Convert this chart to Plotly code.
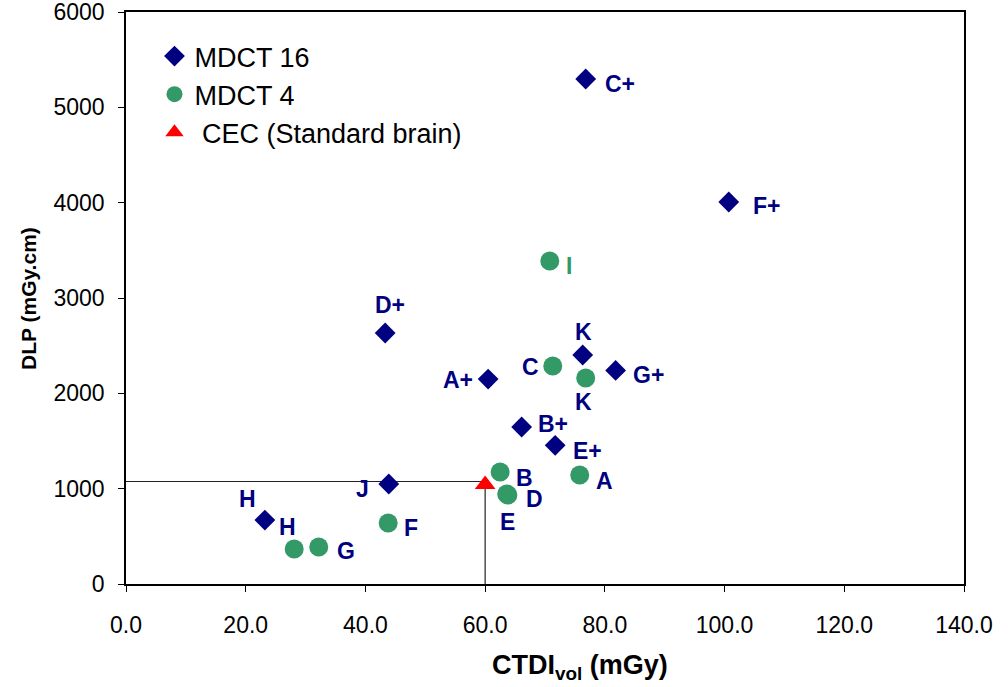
import plotly.graph_objects as go

# MDCT 16 scanners
mdct16_names = ["C+", "F+", "D+", "K", "G+", "A+", "B+", "E+", "J", "H"]
mdct16_ctdi = [76.8, 100.7, 43.3, 76.3, 81.8, 60.5, 66.1, 71.7, 43.9, 23.2]
mdct16_dlp = [5297, 4007, 2633, 2402, 2240, 2150, 1647, 1455, 1049, 671]

# MDCT 4 scanners
mdct4_names = ["I", "C", "K", "B", "D", "E", "A", "F", "G", "H"]
mdct4_ctdi = [70.8, 71.3, 76.8, 62.5, 63.8, 63.6, 75.8, 43.8, 32.2, 28.1]
mdct4_dlp = [3388, 2287, 2161, 1175, 934, 944, 1143, 640, 388, 367]

# CEC reference level for a standard brain examination
cec_ctdi = [60.0]
cec_dlp = [1045]
cec_guide_ctdi = 60.0
cec_guide_dlp = 1075

x_ticks = [0, 20, 40, 60, 80, 100, 120, 140]
y_ticks = [0, 1000, 2000, 3000, 4000, 5000, 6000]

NAVY = "#000080"
GREEN = "#339966"
RED = "#FF0000"
FONT = "Liberation Sans, Arial, Helvetica, sans-serif"

# label offsets in pixels (dx, dy) for each point
mdct16_offsets = {
    "C+": (34, -5), "F+": (38, -4), "D+": (5, 28), "K": (1, 23), "G+": (33, -5),
    "A+": (-30, -1), "B+": (31, 3), "E+": (32, -6), "J": (-26, -5), "H": (-17, 21),
}
mdct4_offsets = {
    "I": (19, -5), "C": (-22, -1), "K": (-2, -24), "B": (24, -6), "D": (27, -4),
    "E": (1, -28), "A": (25, -6), "F": (23, -5), "G": (27, -4), "H": (-7, 22),
}

fig = go.Figure()

fig.add_trace(go.Scatter(
    x=mdct16_ctdi, y=mdct16_dlp, mode="markers", name="MDCT 16",
    marker=dict(symbol="diamond", size=16, color=NAVY, line=dict(width=0)),
))
fig.add_trace(go.Scatter(
    x=mdct4_ctdi, y=mdct4_dlp, mode="markers", name="MDCT 4",
    marker=dict(symbol="circle", size=19, color=GREEN, line=dict(width=0)),
))
fig.add_trace(go.Scatter(
    x=cec_ctdi, y=cec_dlp, mode="markers", name="\u00a0CEC (Standard brain)",
    marker=dict(symbol="triangle-up", size=18, color=RED, line=dict(width=0)),
))

# guide lines marking the CEC reference level
fig.add_shape(type="line", x0=0, x1=cec_guide_ctdi, y0=cec_guide_dlp, y1=cec_guide_dlp,
              line=dict(color="#222222", width=1.2), layer="below")
fig.add_shape(type="line", x0=cec_guide_ctdi, x1=cec_guide_ctdi, y0=0, y1=cec_guide_dlp,
              line=dict(color="#222222", width=1.2), layer="below")

annotations = []
for names, xs, ys, offs in [(mdct16_names, mdct16_ctdi, mdct16_dlp, mdct16_offsets),
                            (mdct4_names, mdct4_ctdi, mdct4_dlp, mdct4_offsets)]:
    for n, xv, yv in zip(names, xs, ys):
        dx, dy = offs[n]
        color = GREEN if (names is mdct4_names and n == "I") else NAVY
        annotations.append(dict(
            x=xv, y=yv, xref="x", yref="y", text=f"<b>{n}</b>", showarrow=False,
            xshift=dx, yshift=dy, font=dict(family=FONT, size=23, color=color),
        ))

# axis titles
annotations.append(dict(
    x=0.542, y=-0.145, xref="paper", yref="paper", xanchor="center", yanchor="middle",
    text="<b>CTDI<sub>vol</sub> (mGy)</b>", showarrow=False,
    font=dict(family=FONT, size=27, color="black"),
))
annotations.append(dict(
    x=-0.117, y=0.5, xref="paper", yref="paper", xanchor="center", yanchor="middle",
    text="<b>DLP (mGy.cm)</b>", showarrow=False, textangle=-90,
    font=dict(family=FONT, size=21, color="black"),
))

fig.update_layout(
    width=1008, height=687,
    margin=dict(l=126, r=44, t=12, b=103),
    paper_bgcolor="white", plot_bgcolor="white",
    font=dict(family=FONT, color="black"),
    annotations=annotations,
    showlegend=True,
    legend=dict(
        x=0.034, y=0.965, xanchor="left", yanchor="top",
        font=dict(family=FONT, size=27, color="black"),
        bgcolor="rgba(0,0,0,0)", itemsizing="trace", tracegroupgap=0,
    ),
    xaxis=dict(
        range=[0, 140], tickvals=x_ticks, tickformat=".1f",
        ticks="outside", ticklen=6, tickcolor="black", ticklabelstandoff=14,
        ticklabeloverflow="allow",
        showline=True, linecolor="black", linewidth=1.5, mirror=True,
        showgrid=False, zeroline=False, automargin=False,
        tickfont=dict(family=FONT, size=23, color="black"),
    ),
    yaxis=dict(
        range=[0, 6000], tickvals=y_ticks,
        ticks="outside", ticklen=6, tickcolor="black", ticklabelstandoff=9,
        ticklabeloverflow="allow",
        showline=True, linecolor="black", linewidth=1.5, mirror=True,
        showgrid=False, zeroline=False, automargin=False,
        tickfont=dict(family=FONT, size=23, color="black"),
    ),
)

fig.write_html("out.html")
